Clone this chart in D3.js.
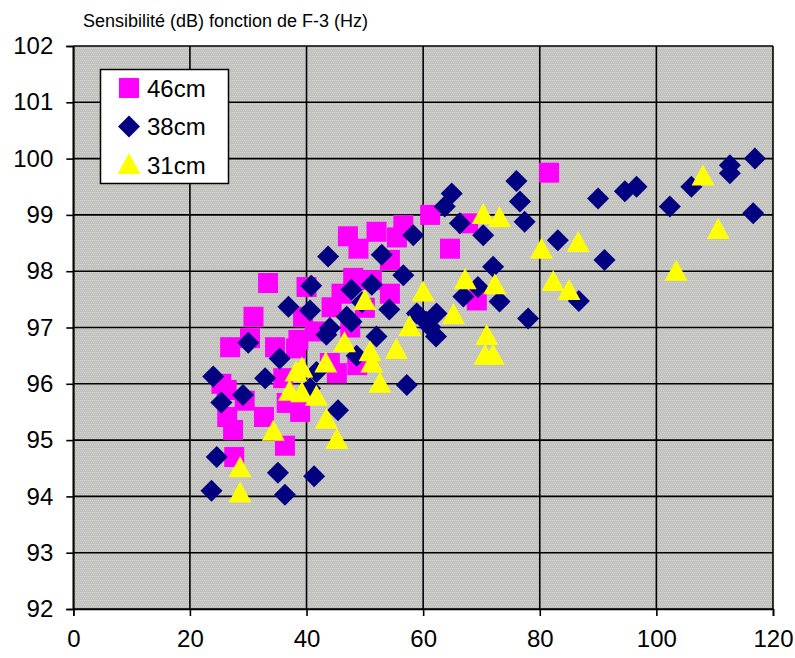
<!DOCTYPE html>
<html><head><meta charset="utf-8">
<script src="https://cdn.jsdelivr.net/npm/d3@7"></script>
<style>
html,body{margin:0;padding:0;background:#fff;}
svg{display:block;}
text{font-family:"Liberation Sans",Arial,sans-serif;fill:#000;}
</style></head>
<body>
<svg id="chart" width="795" height="658"></svg>
<script>
const title = "Sensibilité (dB) fonction de F-3 (Hz)";
const seriesNames = ["46cm", "38cm", "31cm"];
const seriesColors = ["#ff00ff", "#000080", "#ffff00"];
const xTicks = [0, 20, 40, 60, 80, 100, 120];
const yTicks = [92, 93, 94, 95, 96, 97, 98, 99, 100, 101, 102];

// 46cm (x = F-3 Hz, y = dB)
const s46x = [81.6,61.2,67.7,64.6,56.6,55.5,52.0,47.1,48.9,54.3,48.0,51.2,54.3,69.2,33.4,40.0,44.3,30.9,39.4,38.6,26.9,34.6,30.3,38.2,25.4,26.3,26.4,27.4,27.6,32.7,36.3,36.6,38.9,44.0,45.2,41.4,48.7,46.0,50.0,29.4,47.5,36.0];
const s46y = [99.75,99.0,98.85,98.4,98.82,98.6,98.7,98.62,98.4,98.2,97.88,97.84,97.6,97.48,97.79,97.72,97.36,97.19,97.19,96.78,96.65,96.65,96.81,96.63,96.0,95.89,95.41,95.18,94.7,95.41,94.9,95.66,95.5,96.37,96.19,96.93,96.33,97.6,97.35,95.7,97.0,96.1];

// 38cm
const s38x = [116.9,116.6,112.6,112.6,106.0,102.3,96.6,94.6,90.0,91.1,83.1,86.7,78.0,76.0,76.6,77.4,72.0,73.1,70.3,69.4,66.9,64.9,63.7,66.3,58.3,52.9,56.6,54.2,58.9,62.3,61.2,62.2,57.2,47.7,51.2,46.9,47.7,52.0,48.6,43.4,44.0,40.8,40.6,36.9,43.7,41.7,40.6,45.4,35.4,30.0,32.9,24.0,29.1,25.4,24.6,35.1,41.3,23.7,36.3,60.5,49.5];
const s38y = [100.0,99.03,99.88,99.74,99.5,99.15,99.5,99.42,99.29,98.2,98.55,97.47,97.16,99.6,99.24,98.88,98.08,97.46,98.64,97.72,97.55,99.38,99.15,98.85,98.64,98.29,97.93,97.32,97.25,97.25,97.01,96.84,95.98,97.67,97.76,97.19,97.1,96.84,96.5,96.87,96.99,97.74,97.3,97.37,98.26,96.21,95.92,95.53,96.45,96.73,96.1,96.13,95.8,95.67,94.7,94.42,94.36,94.1,94.03,97.1,97.45];

// 31cm
const s31x = [108.0,110.6,103.4,86.6,80.3,82.3,85.0,73.1,70.3,72.3,67.2,60.0,65.2,57.7,50.0,70.9,70.6,72.0,55.4,50.9,51.2,52.6,46.5,43.3,39.2,38.2,37.1,39.2,41.7,43.4,45.2,34.3,28.6,28.6];
const s31y = [99.68,98.73,97.99,98.5,98.38,97.81,97.65,98.94,99.0,97.75,97.84,97.62,97.22,97.01,97.47,96.85,96.5,96.5,96.6,96.56,96.36,96.0,96.72,96.36,96.27,96.2,95.86,95.83,95.77,95.36,95.0,95.15,94.5,94.05];

const series = [
  {name: seriesNames[0], color: seriesColors[0], shape: "square", xs: s46x, ys: s46y},
  {name: seriesNames[1], color: seriesColors[1], shape: "diamond", xs: s38x, ys: s38y},
  {name: seriesNames[2], color: seriesColors[2], shape: "triangle", xs: s31x, ys: s31y}
];

const svg = d3.select("#chart");
const M = {left: 73.3, right: 773, top: 46, bottom: 609};
const x = d3.scaleLinear().domain([0, 120]).range([M.left, M.right]);
const y = d3.scaleLinear().domain([92, 102]).range([M.bottom, M.top]);

// dithered grey background
const defs = svg.append("defs");
const pat = defs.append("pattern").attr("id", "dither").attr("patternUnits", "userSpaceOnUse")
  .attr("width", 4).attr("height", 4);
pat.append("rect").attr("width", 4).attr("height", 4).attr("fill", "#c0c0bc");
pat.append("rect").attr("x", 0).attr("y", 0).attr("width", 1).attr("height", 1).attr("fill", "#d6d6ea");
pat.append("rect").attr("x", 2).attr("y", 0).attr("width", 1).attr("height", 1).attr("fill", "#dedcc4");
pat.append("rect").attr("x", 1).attr("y", 2).attr("width", 1).attr("height", 1).attr("fill", "#cfd0e0");
pat.append("rect").attr("x", 3).attr("y", 2).attr("width", 1).attr("height", 1).attr("fill", "#d4d2b8");

svg.append("rect").attr("x", M.left).attr("y", M.top)
  .attr("width", M.right - M.left).attr("height", M.bottom - M.top)
  .attr("fill", "url(#dither)");

// gridlines
svg.append("g").selectAll("line.h").data(yTicks).join("line")
  .attr("x1", M.left).attr("x2", M.right)
  .attr("y1", d => y(d)).attr("y2", d => y(d))
  .attr("stroke", "#000").attr("stroke-width", 1.6);
svg.append("g").selectAll("line.v").data(xTicks).join("line")
  .attr("y1", M.top).attr("y2", M.bottom)
  .attr("x1", d => x(d)).attr("x2", d => x(d))
  .attr("stroke", "#000").attr("stroke-width", 1.6);

// axes
const yAxis = d3.axisLeft(y).tickValues(yTicks).tickSize(7).tickPadding(13).tickFormat(d3.format("d"));
const gy = svg.append("g").attr("transform", `translate(${M.left},0)`).call(yAxis);
gy.select(".domain").attr("stroke", "#000").attr("stroke-width", 1.6);
gy.selectAll(".tick line").attr("stroke", "#000").attr("stroke-width", 1.6);
gy.selectAll(".tick text").attr("font-size", 24).attr("font-family", '"Liberation Sans",Arial,sans-serif').attr("fill", "#000");

const xAxis = d3.axisBottom(x).tickValues(xTicks).tickSize(7).tickPadding(14).tickFormat(d3.format("d"));
const gx = svg.append("g").attr("transform", `translate(0,${M.bottom})`).call(xAxis);
gx.select(".domain").attr("stroke", "#000").attr("stroke-width", 1.6);
gx.selectAll(".tick line").attr("stroke", "#000").attr("stroke-width", 1.6);
gx.selectAll(".tick text").attr("font-size", 24).attr("font-family", '"Liberation Sans",Arial,sans-serif').attr("fill", "#000");

// marker shapes
function shapePath(shape) {
  if (shape === "square") return "M-10,-10H10V10H-10Z";
  if (shape === "diamond") return "M0,-11L11,0L0,11L-11,0Z";
  return "M0,-12L11.5,9L-11.5,9Z";
}

series.forEach(s => {
  const pts = s.xs.map((v, i) => [v, s.ys[i]]);
  svg.append("g").selectAll("path").data(pts).join("path")
    .attr("d", shapePath(s.shape))
    .attr("transform", d => `translate(${x(d[0])},${y(d[1])})`)
    .attr("fill", s.color);
});

// title
svg.append("text").attr("x", 83).attr("y", 27).attr("font-size", 18).text(title);

// legend
const lg = svg.append("g");
lg.append("rect").attr("x", 100.5).attr("y", 69.5).attr("width", 128).attr("height", 114)
  .attr("fill", "#fff").attr("stroke", "#000").attr("stroke-width", 1.5);
series.forEach((s, i) => {
  const cy = 88 + i * 38.5;
  lg.append("path").attr("d", shapePath(s.shape)).attr("transform", `translate(129,${cy})`).attr("fill", s.color);
  lg.append("text").attr("x", 147).attr("y", cy).attr("dy", "0.36em").attr("font-size", 24).text(s.name);
});
</script>
</body></html>
